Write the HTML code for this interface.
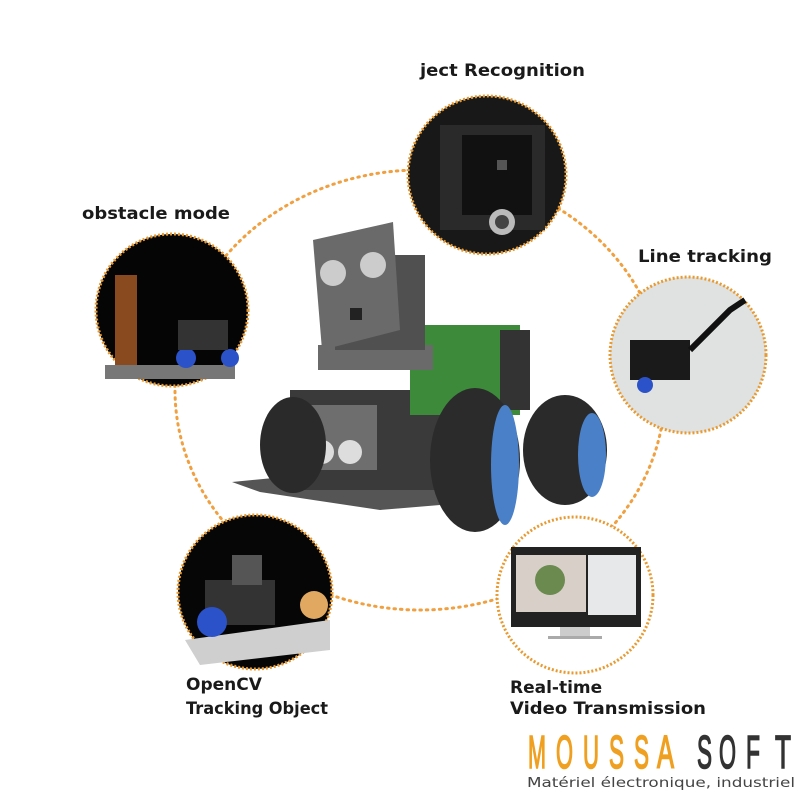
<!DOCTYPE html>
<html><head><meta charset="utf-8"><style>
html,body{margin:0;padding:0;background:#fff;width:800px;height:800px;overflow:hidden}
svg{display:block}
text{font-family:"DejaVu Sans","Liberation Sans",sans-serif;font-weight:bold;fill:#1a1a1a}
.lg{font-weight:normal;font-family:'Liberation Sans',sans-serif;font-size:46px;stroke-width:1.6px}
</style></head><body>
<svg width="800" height="800" viewBox="0 0 800 800">
<ellipse cx="420" cy="390" rx="245" ry="220" fill="none" stroke="#f0a040" stroke-width="3" stroke-dasharray="1.5 5" stroke-linecap="round"/>

<circle cx="487" cy="175" r="79" fill="#181818" stroke="#e89a30" stroke-width="3" stroke-dasharray="2 2"/>
<rect x="440" y="125" width="105" height="105" fill="#2a2a2a"/>
<rect x="462" y="135" width="70" height="80" fill="#111"/>
<rect x="497" y="160" width="10" height="10" fill="#555"/>
<circle cx="502" cy="222" r="13" fill="#bbb"/><circle cx="502" cy="222" r="7" fill="#444"/>

<circle cx="172" cy="310" r="76" fill="#050505" stroke="#e89a30" stroke-width="3" stroke-dasharray="2 2"/>
<rect x="115" y="275" width="22" height="90" fill="#8a4a20"/>
<rect x="105" y="365" width="130" height="14" fill="#777"/>
<circle cx="186" cy="358" r="10" fill="#2b52c8"/><circle cx="230" cy="358" r="9" fill="#2b52c8"/>
<rect x="178" y="320" width="50" height="30" fill="#333"/>

<circle cx="688" cy="355" r="78" fill="#dfe2e0" stroke="#e89a30" stroke-width="3" stroke-dasharray="2 2"/>
<rect x="630" y="340" width="60" height="40" fill="#1a1a1a"/>
<circle cx="645" cy="385" r="8" fill="#2b52c8"/>
<path d="M690 350 L730 310 L745 300" stroke="#111" stroke-width="6" fill="none"/>

<circle cx="255" cy="592" r="77" fill="#060606" stroke="#e89a30" stroke-width="3" stroke-dasharray="2 2"/>
<path d="M185 640 L330 620 L330 650 L200 665 Z" fill="#cfcfcf"/>
<rect x="205" y="580" width="70" height="45" fill="#333"/>
<rect x="232" y="555" width="30" height="30" fill="#555"/>
<circle cx="212" cy="622" r="15" fill="#2b52c8"/>
<circle cx="314" cy="605" r="14" fill="#e0a860"/>

<circle cx="575" cy="595" r="78" fill="#fff" stroke="#e89a30" stroke-width="3" stroke-dasharray="2 2"/>
<rect x="511" y="547" width="130" height="80" fill="#222"/>
<rect x="516" y="555" width="70" height="57" fill="#d8d0c8"/>
<circle cx="550" cy="580" r="15" fill="#6a8a50"/>
<rect x="588" y="555" width="48" height="60" fill="#e6e8ea"/>
<rect x="560" y="627" width="30" height="10" fill="#ccc"/>
<rect x="548" y="636" width="54" height="3" fill="#aaa"/>

<g>
<path d="M232 482 L305 475 L430 478 L440 505 L380 510 L260 492 Z" fill="#555"/>
<rect x="290" y="390" width="170" height="100" fill="#3a3a3a"/>
<rect x="410" y="325" width="110" height="90" fill="#3c8a3a"/>
<rect x="500" y="330" width="30" height="80" fill="#333"/>
<rect x="318" y="345" width="115" height="25" fill="#6a6a6a"/>
<rect x="335" y="255" width="90" height="95" fill="#505050"/>
<path d="M313 240 L393 222 L400 330 L322 350 Z" fill="#6a6a6a"/>
<circle cx="333" cy="273" r="13" fill="#ccc"/><circle cx="373" cy="265" r="13" fill="#ccc"/>
<rect x="350" y="308" width="12" height="12" fill="#222"/>
<rect x="307" y="405" width="70" height="65" fill="#6e6e6e"/>
<circle cx="322" cy="452" r="12" fill="#ddd"/><circle cx="350" cy="452" r="12" fill="#ddd"/>
<ellipse cx="293" cy="445" rx="33" ry="48" fill="#2a2a2a"/>
<ellipse cx="565" cy="450" rx="42" ry="55" fill="#2a2a2a"/>
<ellipse cx="592" cy="455" rx="14" ry="42" fill="#4a80c8"/>
<ellipse cx="475" cy="460" rx="45" ry="72" fill="#2b2b2b"/>
<ellipse cx="505" cy="465" rx="14" ry="60" fill="#4a80c8"/>
</g>

<text x="420" y="76" font-size="17" textLength="165" lengthAdjust="spacingAndGlyphs">ject Recognition</text>
<text x="82" y="219" font-size="17" textLength="148" lengthAdjust="spacingAndGlyphs">obstacle mode</text>
<text x="638" y="262" font-size="17" textLength="134" lengthAdjust="spacingAndGlyphs">Line tracking</text>
<text x="186" y="690" font-size="17">OpenCV</text>
<text x="186" y="714" font-size="17" textLength="142" lengthAdjust="spacingAndGlyphs">Tracking Object</text>
<text x="510" y="693" font-size="17">Real-time</text>
<text x="510" y="714" font-size="17" textLength="196" lengthAdjust="spacingAndGlyphs">Video Transmission</text>

<text class="lg" x="528" y="768" textLength="18" lengthAdjust="spacingAndGlyphs" style="fill:#f0a020;stroke:#f0a020">M</text>
<text class="lg" x="556" y="768" textLength="17" lengthAdjust="spacingAndGlyphs" style="fill:#f0a020;stroke:#f0a020">O</text>
<text class="lg" x="583" y="768" textLength="16" lengthAdjust="spacingAndGlyphs" style="fill:#f0a020;stroke:#f0a020">U</text>
<text class="lg" x="609" y="768" textLength="15" lengthAdjust="spacingAndGlyphs" style="fill:#f0a020;stroke:#f0a020">S</text>
<text class="lg" x="634" y="768" textLength="15" lengthAdjust="spacingAndGlyphs" style="fill:#f0a020;stroke:#f0a020">S</text>
<text class="lg" x="657" y="768" textLength="17" lengthAdjust="spacingAndGlyphs" style="fill:#f0a020;stroke:#f0a020">A</text>
<text class="lg" x="697" y="768" textLength="15" lengthAdjust="spacingAndGlyphs" style="fill:#333;stroke:#333">S</text>
<text class="lg" x="719" y="768" textLength="17" lengthAdjust="spacingAndGlyphs" style="fill:#333;stroke:#333">O</text>
<text class="lg" x="746" y="768" textLength="14" lengthAdjust="spacingAndGlyphs" style="fill:#333;stroke:#333">F</text>
<text class="lg" x="775" y="768" textLength="16" lengthAdjust="spacingAndGlyphs" style="fill:#333;stroke:#333">T</text>
<text x="527" y="787" font-size="13" textLength="268" lengthAdjust="spacingAndGlyphs" style="font-weight:normal;fill:#444">Matériel électronique, industriel</text>
</svg>
</body></html>
